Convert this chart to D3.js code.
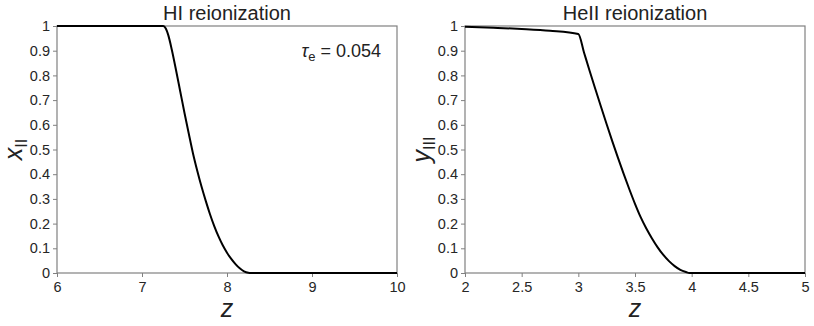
<!DOCTYPE html>
<html>
<head>
<meta charset="utf-8">
<script src="https://cdn.jsdelivr.net/npm/d3@7"></script>
<style>
  body { margin: 0; background: #fff; }
  text { font-family: "Liberation Sans", Arial, sans-serif; }
</style>
</head>
<body>
<svg id="chart" width="814" height="326"></svg>
<script>
// HI reionization: ionized fraction x_II vs redshift
var hiZ = [6, 7.25, 7.28, 7.31, 7.35, 7.40, 7.45, 7.50, 7.55, 7.60, 7.65, 7.70, 7.75, 7.80, 7.85, 7.90, 7.95, 8.00, 8.05, 8.10, 8.15, 8.20, 8.25, 8.28, 10];
var hiX = [1, 1, 0.99, 0.962, 0.905, 0.822, 0.735, 0.648, 0.565, 0.484, 0.414, 0.35, 0.292, 0.238, 0.19, 0.148, 0.112, 0.082, 0.057, 0.036, 0.019, 0.007, 0.001, 0, 0];

// HeII reionization: y_III vs redshift
var heZ = [2, 2.25, 2.5, 2.75, 3.0, 3.05, 3.10, 3.15, 3.20, 3.25, 3.30, 3.35, 3.40, 3.45, 3.50, 3.55, 3.60, 3.65, 3.70, 3.75, 3.80, 3.85, 3.90, 3.95, 3.98, 5];
var heY = [0.997, 0.993, 0.988, 0.981, 0.968, 0.893, 0.818, 0.745, 0.673, 0.602, 0.533, 0.466, 0.401, 0.339, 0.280, 0.226, 0.18, 0.14, 0.104, 0.073, 0.048, 0.028, 0.013, 0.004, 0, 0];

var yTicks = [0, 0.1, 0.2, 0.3, 0.4, 0.5, 0.6, 0.7, 0.8, 0.9, 1];
var hiXTicks = [6, 7, 8, 9, 10];
var heXTicks = [2, 2.5, 3, 3.5, 4, 4.5, 5];

var svg = d3.select("#chart");
var plotTop = 26, plotBottom = 273;

function panel(opts) {
  var g = svg.append("g");
  var x = d3.scaleLinear().domain(opts.xDomain).range([opts.left, opts.right]);
  var y = d3.scaleLinear().domain([0, 1]).range([plotBottom, plotTop]);

  var xAxis = g.append("g")
    .attr("transform", "translate(0," + plotBottom + ")")
    .call(d3.axisBottom(x).tickValues(opts.xTicks).tickSize(4).tickPadding(5).tickFormat(d3.format("")));
  var yAxis = g.append("g")
    .attr("transform", "translate(" + opts.left + ",0)")
    .call(d3.axisLeft(y).tickValues(yTicks).tickSize(4).tickPadding(3).tickFormat(d3.format("")));

  [xAxis, yAxis].forEach(function(a) {
    a.attr("font-size", null).attr("font-family", null);
    a.select(".domain").remove();
    a.selectAll(".tick line").attr("stroke", "#808080").attr("stroke-width", 1);
    a.selectAll(".tick text").attr("fill", "#262626").style("font-size", "14.5px");
  });

  // frame
  g.append("rect")
    .attr("x", opts.left).attr("y", plotTop)
    .attr("width", opts.right - opts.left).attr("height", plotBottom - plotTop)
    .attr("fill", "none").attr("stroke", "#808080").attr("stroke-width", 1.2);

  var line = d3.line()
    .x(function(d) { return x(d[0]); })
    .y(function(d) { return y(d[1]); })
    .curve(d3.curveMonotoneX);

  g.append("path")
    .datum(d3.zip(opts.zs, opts.vals))
    .attr("d", line)
    .attr("fill", "none")
    .attr("stroke", "#000")
    .attr("stroke-width", 2);

  var cx = (opts.left + opts.right) / 2;
  g.append("text")
    .attr("x", cx).attr("y", 20)
    .attr("text-anchor", "middle")
    .attr("fill", "#222")
    .style("font-size", "20px")
    .text(opts.title);

  g.append("text")
    .attr("x", cx).attr("y", 317)
    .attr("text-anchor", "middle")
    .attr("fill", "#222")
    .style("font-size", "25px")
    .style("font-style", "italic")
    .text("z");

  var yl = g.append("text")
    .attr("transform", "translate(" + (opts.left - 35) + "," + ((plotTop + plotBottom) / 2) + ") rotate(-90)")
    .attr("text-anchor", "middle")
    .attr("fill", "#222")
    .style("font-size", "25px");
  yl.append("tspan").style("font-style", "italic").text(opts.yVar);
  yl.append("tspan").attr("dy", 5).style("font-size", "16px").text(opts.ySub);

  return g;
}

var left = panel({
  left: 57, right: 397, xDomain: [6, 10], xTicks: hiXTicks,
  zs: hiZ, vals: hiX, title: "HI reionization", yVar: "x", ySub: "II"
});

var tau = left.append("text")
  .attr("x", 381).attr("y", 57)
  .attr("text-anchor", "end")
  .attr("fill", "#222")
  .style("font-size", "18px");
tau.append("tspan").style("font-style", "italic").text("τ");
tau.append("tspan").attr("dy", 4).style("font-size", "13px").text("e");
tau.append("tspan").attr("dy", -4).text(" = 0.054");

panel({
  left: 465, right: 805, xDomain: [2, 5], xTicks: heXTicks,
  zs: heZ, vals: heY, title: "HeII reionization", yVar: "y", ySub: "III"
});
</script>
</body>
</html>
